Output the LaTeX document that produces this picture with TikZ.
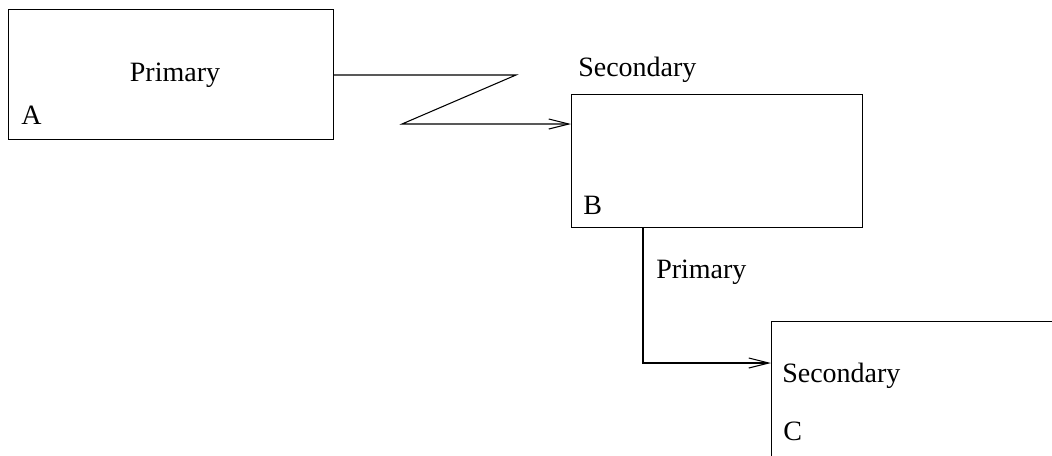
\documentclass[tikz,border=0pt]{standalone}
\usepackage{fontspec}
\setmainfont{Liberation Serif}
\usetikzlibrary{arrows.meta}

\tikzset{
  site/.style={draw,line width=0.8pt,anchor=north west,inner sep=0pt},
  lbl/.style={anchor=base west,inner sep=0pt,font=\fontsize{21}{25}\selectfont},
  link/.style={line width=0.8pt,-{Straight Barb[length=15pt,width=7.5pt,line width=0.8pt]}}
}

\begin{document}
\begin{tikzpicture}[x=0.75pt,y=-0.75pt]
\useasboundingbox (0,0) rectangle (1052,455);
\clip (0,0) rectangle (1052,455);

% the three sites
\node[site,minimum width=243.75pt,minimum height=97.5pt] (siteA) at (8,9) {};
\node[site,minimum width=218.25pt,minimum height=99.75pt] (siteB) at (571,94) {};
\node[site,minimum width=240pt,minimum height=120pt] (siteC) at (771,321) {};

% labels
\node[lbl,anchor=base] (roleA) at (175,81) {Primary};
\node[lbl] (nameA) at (21,124) {A};
\node[lbl] (roleB) at (578,76) {Secondary};
\node[lbl] (nameB) at (583,214) {B};
\node[lbl] (roleBC) at (656,278) {Primary};
\node[lbl] (roleC) at (782,382) {Secondary};
\node[lbl] (nameC) at (783,440) {C};

% A to B: the zig link
\coordinate (zigtop) at (516,75);
\coordinate (zigbot) at (402,124);
\draw[link] (siteA.east |- zigtop) -- (zigtop) -- (zigbot) -- (zigbot -| siteB.west);

% B to C
\coordinate (drop) at (643,363);
\draw[link] (siteB.south -| drop) -- (drop) -- (drop -| siteC.west);
\end{tikzpicture}
\end{document}
